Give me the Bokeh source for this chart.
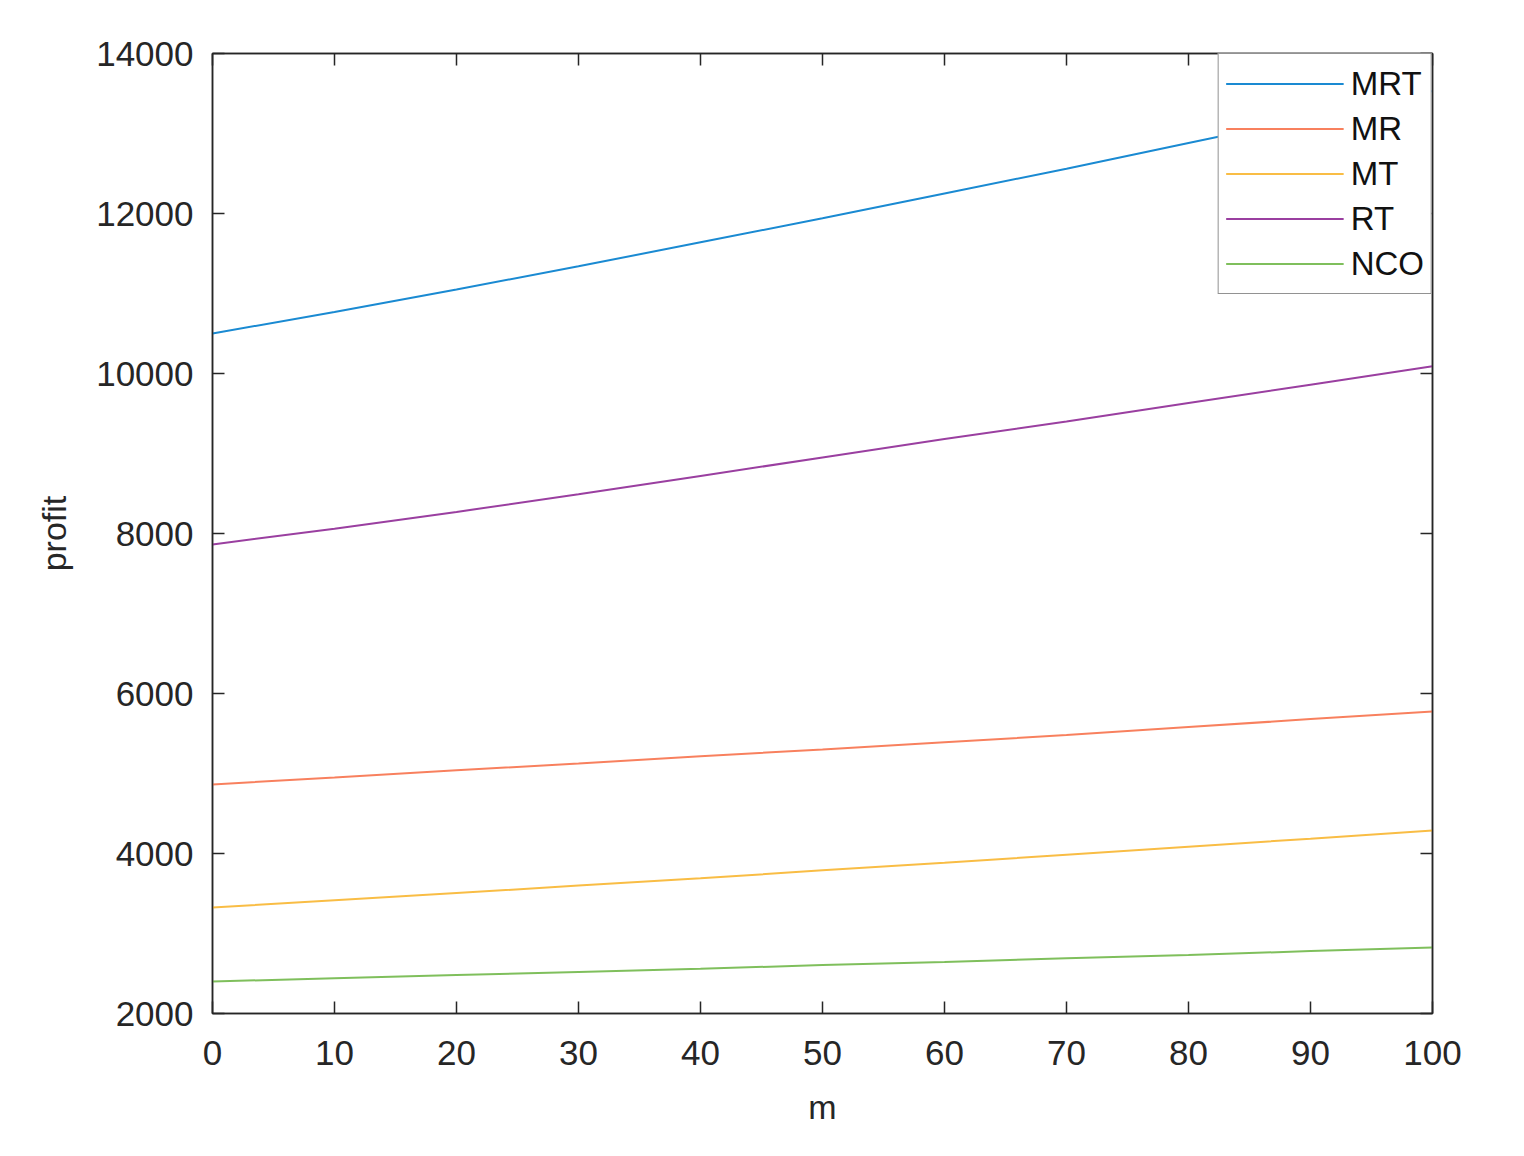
from bokeh.plotting import figure
from bokeh.models import LinearAxis, FixedTicker, Range1d
from bokeh.embed import file_html
from bokeh.resources import INLINE

# ---- data ----
m = [0, 10, 20, 30, 40, 50, 60, 70, 80, 90, 100]
MRT = [10500, 10770, 11050, 11340, 11640, 11940, 12250, 12560, 12880, 13200, 13530]
MR = [4863, 4950, 5040, 5125, 5215, 5300, 5390, 5480, 5580, 5680, 5775]
MT = [3325, 3415, 3505, 3600, 3690, 3790, 3885, 3985, 4085, 4185, 4288]
RT = [7863, 8060, 8270, 8490, 8720, 8950, 9180, 9400, 9630, 9860, 10090]
NCO = [2400, 2440, 2480, 2520, 2560, 2605, 2645, 2690, 2730, 2780, 2825]
series_names = ["MRT", "MR", "MT", "RT", "NCO"]
series_values = [MRT, MR, MT, RT, NCO]
x_ticks = [0, 10, 20, 30, 40, 50, 60, 70, 80, 90, 100]
y_ticks = [2000, 4000, 6000, 8000, 10000, 12000, 14000]

colors = ["#1a8ad2", "#f8805e", "#f9bd45", "#9a3fa0", "#7fbf5c"]
FONT = "Liberation Sans"
TXT = "#262626"

p = figure(frame_width=1220, frame_height=960,
           x_range=Range1d(0, 100), y_range=Range1d(2000, 14000),
           output_backend="svg", toolbar_location=None,
           min_border_left=212, min_border_top=53, min_border_right=70,
           min_border_bottom=120,
           background_fill_color="white", border_fill_color="white")

p.xgrid.visible = False
p.ygrid.visible = False
p.outline_line_color = TXT
p.outline_line_width = 1.5

for name, vals, c in zip(series_names, series_values, colors):
    p.line(m, vals, line_color=c, line_width=2, legend_label=name)

def style_axis(ax):
    ax.axis_line_color = TXT
    ax.axis_line_width = 1.5
    ax.major_tick_line_color = TXT
    ax.major_tick_line_width = 1.5
    ax.major_tick_in = 12
    ax.major_tick_out = 0
    ax.minor_tick_line_color = None
    ax.major_label_text_font = FONT
    ax.major_label_text_font_size = "35px"
    ax.major_label_text_color = TXT
    ax.axis_label_text_font = FONT
    ax.axis_label_text_font_size = "34px"
    ax.axis_label_text_font_style = "normal"
    ax.axis_label_text_color = TXT

xa = p.xaxis[0]
xa.ticker = FixedTicker(ticks=x_ticks)
xa.axis_label = "m"
style_axis(xa)
xa.major_label_standoff = 27
xa.axis_label_standoff = 20

ya = p.yaxis[0]
ya.ticker = FixedTicker(ticks=y_ticks)
ya.axis_label = "profit"
style_axis(ya)
ya.major_label_standoff = 19
ya.axis_label_standoff = 20

top = LinearAxis(ticker=FixedTicker(ticks=x_ticks),
                 major_label_overrides={t: "" for t in x_ticks})
style_axis(top)
top.major_label_standoff = 0
p.add_layout(top, "above")

right = LinearAxis(ticker=FixedTicker(ticks=y_ticks),
                   major_label_overrides={t: "" for t in y_ticks})
style_axis(right)
right.major_label_standoff = 0
p.add_layout(right, "right")

lg = p.legend[0]
lg.location = "top_right"
lg.margin = 0
lg.padding = 7
lg.spacing = 0
lg.border_line_color = TXT
lg.border_line_width = 1.5
lg.background_fill_color = "white"
lg.background_fill_alpha = 1
lg.glyph_width = 118
lg.glyph_height = 45
lg.label_height = 45
lg.label_standoff = 7
lg.label_text_font = FONT
lg.label_text_font_size = "33px"
lg.label_text_color = "#111111"

open("out.html", "w").write(file_html(p, INLINE))
